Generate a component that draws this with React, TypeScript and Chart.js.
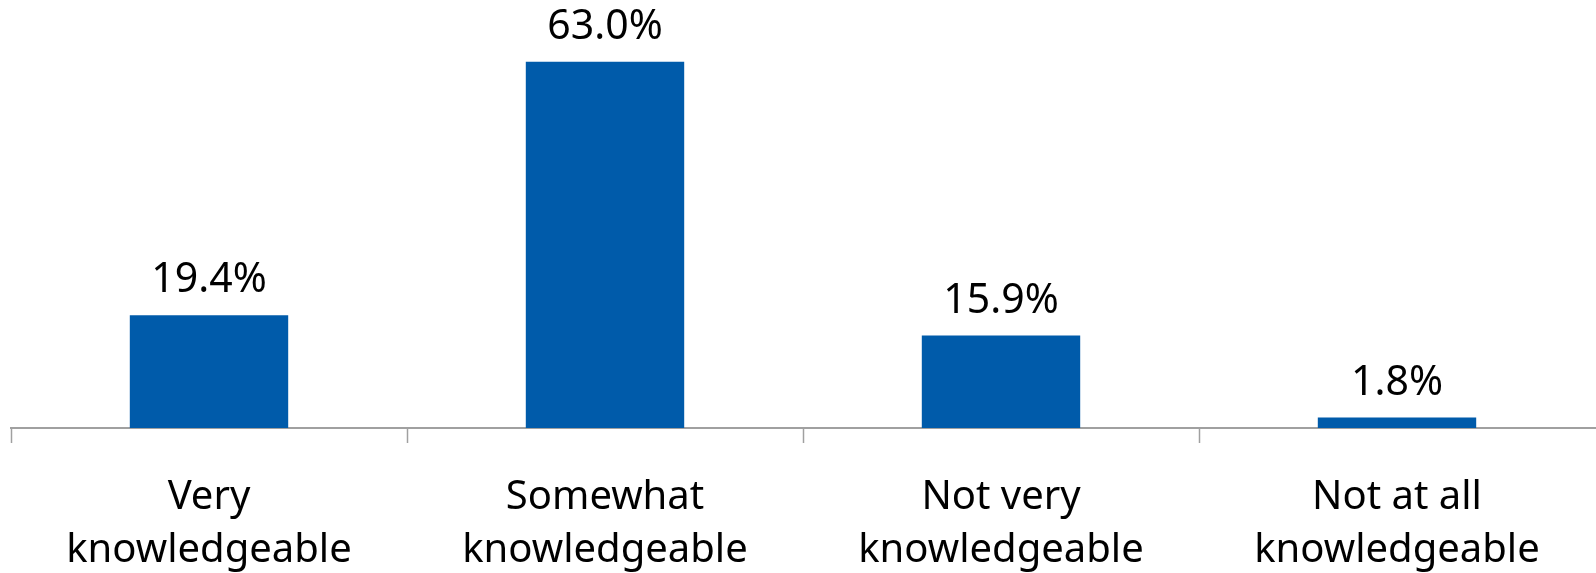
import React, { useEffect, useRef } from "react";
import { Chart, registerables } from "chart.js";

Chart.register(...registerables);

const categories: string[][] = [
  ["Very", "knowledgeable"],
  ["Somewhat", "knowledgeable"],
  ["Not very", "knowledgeable"],
  ["Not at all", "knowledgeable"],
];
const values: number[] = [19.4, 63.0, 15.9, 1.8];
const valueLabels: string[] = ["19.4%", "63.0%", "15.9%", "1.8%"];

const FONT = "'Noto Sans', 'Open Sans', sans-serif";

const labelsPlugin = {
  id: "customLabels",
  afterDraw(chart: any) {
    const ctx = chart.ctx;
    const meta = chart.getDatasetMeta(0);
    const xScale = chart.scales.x;
    const bottom = chart.chartArea.bottom;
    ctx.save();
    ctx.fillStyle = "#000";
    ctx.textAlign = "center";
    ctx.textBaseline = "alphabetic";
    ctx.font = `41px ${FONT}`;
    meta.data.forEach((bar: any, i: number) => {
      ctx.fillText(valueLabels[i], bar.x, bar.y - 23);
    });
    ctx.font = `40px ${FONT}`;
    categories.forEach((lines, i) => {
      const x = xScale.getPixelForValue(i);
      lines.forEach((line, j) => {
        ctx.fillText(line, x, bottom + 81 + j * 53);
      });
    });
    ctx.restore();
  },
};

export default function App() {
  const ref = useRef<HTMLCanvasElement | null>(null);
  useEffect(() => {
    if (!ref.current) return;
    const chart = new Chart(ref.current, {
      type: "bar",
      data: {
        labels: categories,
        datasets: [
          {
            data: values,
            backgroundColor: "#005BAA",
            categoryPercentage: 1,
            barPercentage: 0.4,
          },
        ],
      },
      options: {
        animation: false,
        responsive: true,
        maintainAspectRatio: false,
        layout: { padding: { top: 21, left: 11, right: 1, bottom: 130 } },
        plugins: { legend: { display: false }, tooltip: { enabled: false } },
        scales: {
          y: { display: false, min: 0, max: 70 },
          x: {
            border: { color: "#A0A0A0", width: 2 },
            grid: {
              drawOnChartArea: false,
              drawTicks: true,
              tickLength: 15,
              color: (c: any) => (c.type === "tick" ? "#A0A0A0" : "rgba(0,0,0,0)"),
              tickWidth: 1.5,
            },
            ticks: { display: false },
          },
        },
      },
      plugins: [labelsPlugin],
    });
    return () => chart.destroy();
  }, []);
  return (
    <div style={{ position: "absolute", left: 0, top: 0, width: 1596, height: 573, background: "#fff" }}>
      <canvas ref={ref} />
    </div>
  );
}
